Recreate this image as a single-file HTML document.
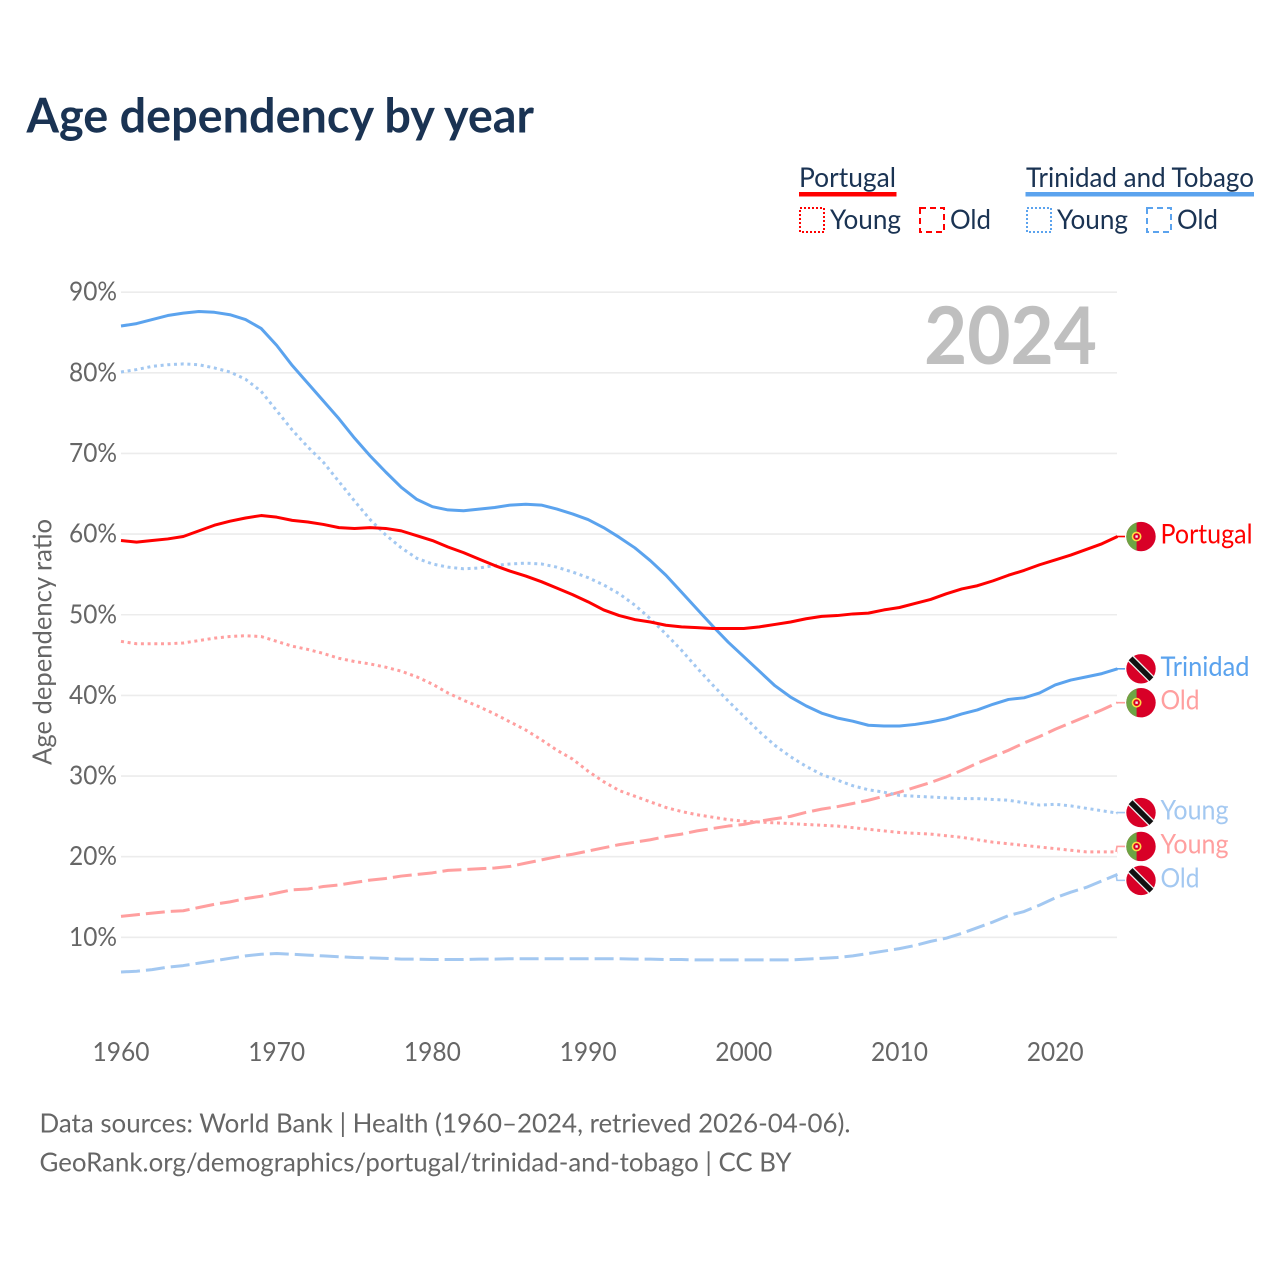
<!DOCTYPE html>
<html lang="en">
<head>
<meta charset="utf-8">
<title>Age dependency by year</title>
<style>
html,body{margin:0;padding:0;background:#fff;}
svg{display:block;font-family:"Lato","Carlito","Liberation Sans",sans-serif;}
</style>
</head>
<body>
<svg id="chart" xmlns="http://www.w3.org/2000/svg" width="1280" height="1280" viewBox="0 0 1280 1280">
  <rect width="1280" height="1280" fill="#fff"/>
  <text x="26.500" y="132.700" font-size="48" font-weight="700" fill="#1a3353" textLength="507.500" lengthAdjust="spacingAndGlyphs">Age dependency by year</text>

  <g font-size="27" fill="#1a3353">
    <text x="799" y="187" textLength="97" lengthAdjust="spacingAndGlyphs">Portugal</text>
    <rect x="799" y="192" width="97.500" height="4.500" fill="#ff0000"/>
    <rect x="800" y="208" width="24" height="24" fill="none" stroke="#ff0000" stroke-width="2" stroke-dasharray="2 2"/>
    <text x="830" y="229" textLength="71" lengthAdjust="spacingAndGlyphs">Young</text>
    <rect x="920" y="208" width="24" height="24" fill="none" stroke="#ff0000" stroke-width="2" stroke-dasharray="6 4"/>
    <text x="950" y="229" textLength="41" lengthAdjust="spacingAndGlyphs">Old</text>
    <text x="1026" y="187" textLength="228" lengthAdjust="spacingAndGlyphs">Trinidad and Tobago</text>
    <rect x="1025.500" y="192" width="228.500" height="4.500" fill="#5ba3ee"/>
    <rect x="1027" y="208" width="24" height="24" fill="none" stroke="#5ba3ee" stroke-width="2" stroke-dasharray="2 2"/>
    <text x="1057" y="229" textLength="71" lengthAdjust="spacingAndGlyphs">Young</text>
    <rect x="1147" y="208" width="24" height="24" fill="none" stroke="#5ba3ee" stroke-width="2" stroke-dasharray="6 4"/>
    <text x="1177" y="229" textLength="41" lengthAdjust="spacingAndGlyphs">Old</text>
  </g>

  <g id="grid"></g>
  <text x="924" y="364" font-size="80" font-weight="700" fill="#bfbfbf" textLength="173" lengthAdjust="spacingAndGlyphs">2024</text>
  <g id="yTicks" font-size="26" fill="#666666"></g>
  <g id="xTicks" font-size="26" fill="#666666"></g>
  <text transform="translate(51.300 642) rotate(-90)" text-anchor="middle" font-size="26" fill="#666666" textLength="246" lengthAdjust="spacingAndGlyphs">Age dependency ratio</text>
  <g id="series"></g>
  <g id="ends"></g>

  <g font-size="26" fill="#666666">
    <text x="39.500" y="1132.700" textLength="811" lengthAdjust="spacingAndGlyphs">Data sources: World Bank | Health (1960–2024, retrieved 2026-04-06).</text>
    <text x="39.500" y="1171.700" textLength="752" lengthAdjust="spacingAndGlyphs">GeoRank.org/demographics/portugal/trinidad-and-tobago | CC BY</text>
  </g>
</svg>
<script>
var startYear = 1960;
var xTickYears = [1960, 1970, 1980, 1990, 2000, 2010, 2020];
var yTickValues = [10, 20, 30, 40, 50, 60, 70, 80, 90];

var portugalTotal = [59.2,59.0,59.2,59.4,59.7,60.4,61.1,61.6,62.0,62.3,62.1,61.7,61.5,61.2,60.8,60.7,60.8,60.7,60.4,59.8,59.2,58.4,57.7,56.9,56.1,55.4,54.8,54.1,53.3,52.5,51.6,50.6,49.9,49.4,49.1,48.7,48.5,48.4,48.3,48.3,48.3,48.5,48.8,49.1,49.5,49.8,49.9,50.1,50.2,50.6,50.9,51.4,51.9,52.6,53.2,53.6,54.2,54.9,55.5,56.2,56.8,57.4,58.1,58.8,59.7];
var trinidadTotal = [85.8,86.1,86.6,87.1,87.4,87.6,87.5,87.2,86.6,85.5,83.4,80.9,78.7,76.5,74.3,71.9,69.7,67.7,65.8,64.3,63.4,63.0,62.9,63.1,63.3,63.6,63.7,63.6,63.1,62.5,61.8,60.8,59.6,58.3,56.7,54.9,52.8,50.7,48.6,46.6,44.8,43.0,41.2,39.8,38.7,37.8,37.2,36.8,36.3,36.2,36.2,36.4,36.7,37.1,37.7,38.2,38.9,39.5,39.7,40.3,41.3,41.9,42.3,42.7,43.3];
var portugalYoung = [46.7,46.4,46.4,46.4,46.5,46.8,47.1,47.3,47.4,47.3,46.7,46.1,45.7,45.2,44.6,44.2,43.9,43.5,43.0,42.3,41.4,40.3,39.4,38.6,37.7,36.7,35.7,34.5,33.2,32.1,30.6,29.3,28.2,27.5,26.8,26.1,25.6,25.2,24.9,24.6,24.4,24.3,24.2,24.1,24.0,23.9,23.8,23.6,23.4,23.2,23.0,22.9,22.8,22.6,22.4,22.1,21.8,21.6,21.4,21.2,21.0,20.8,20.6,20.6,20.6];
var portugalOld = [12.6,12.8,13.0,13.2,13.3,13.7,14.1,14.4,14.8,15.1,15.5,15.9,16.0,16.3,16.5,16.8,17.1,17.3,17.6,17.8,18.0,18.3,18.4,18.5,18.6,18.8,19.2,19.6,20.0,20.3,20.7,21.1,21.5,21.8,22.1,22.5,22.8,23.2,23.5,23.8,24.0,24.4,24.7,25.0,25.5,25.9,26.2,26.6,27.0,27.5,28.0,28.6,29.2,29.9,30.7,31.6,32.4,33.2,34.1,34.9,35.8,36.6,37.4,38.2,39.1];
var trinidadYoung = [80.1,80.4,80.8,81.0,81.1,81.0,80.6,80.1,79.2,77.7,75.3,72.9,70.8,68.9,66.5,64.1,61.8,59.9,58.3,57.0,56.3,55.9,55.7,55.8,56.1,56.3,56.4,56.3,55.9,55.3,54.6,53.7,52.6,51.2,49.5,47.6,45.6,43.4,41.3,39.3,37.4,35.5,33.8,32.4,31.2,30.2,29.5,28.8,28.3,28.0,27.6,27.5,27.4,27.3,27.2,27.2,27.1,27.0,26.7,26.4,26.5,26.3,26.0,25.7,25.4];
var trinidadOld = [5.7,5.8,6.0,6.3,6.5,6.8,7.1,7.4,7.7,7.9,8.0,7.9,7.8,7.7,7.6,7.5,7.45,7.4,7.3,7.3,7.25,7.25,7.25,7.3,7.3,7.35,7.35,7.35,7.35,7.35,7.35,7.35,7.35,7.3,7.3,7.25,7.25,7.2,7.2,7.2,7.2,7.2,7.2,7.2,7.3,7.4,7.5,7.7,8.0,8.3,8.6,9.0,9.5,9.9,10.5,11.2,11.9,12.7,13.2,14.0,14.9,15.6,16.2,17.0,17.8];

var SVGNS = 'http://www.w3.org/2000/svg';
function xScale(year) { return 121 + (year - 1960) * 15.57; }
function yScale(v) { return 1018 - v * 8.065; }
function make(tag, parent) {
  var el = document.createElementNS(SVGNS, tag);
  parent.appendChild(el);
  return el;
}

var grid = document.getElementById('grid');
var yTicks = document.getElementById('yTicks');
yTickValues.forEach(function (v) {
  var line = make('line', grid);
  
  
  line.setAttribute('x1', 121);
  line.setAttribute('x2', 1117);
  line.setAttribute('y1', yScale(v));
  line.setAttribute('y2', yScale(v));
  line.setAttribute('stroke', '#ececec');
  line.setAttribute('stroke-width', 1.6);
  var t = make('text', yTicks);
  
  
  t.setAttribute('x', 117);
  t.setAttribute('y', yScale(v) + 8.5);
  t.setAttribute('text-anchor', 'end');
  t.setAttribute('textLength', 48);
  t.setAttribute('lengthAdjust', 'spacingAndGlyphs');
  t.textContent = v + '%';
});

var xTicks = document.getElementById('xTicks');
xTickYears.forEach(function (y) {
  var t = make('text', xTicks);
  
  
  t.setAttribute('x', xScale(y));
  t.setAttribute('y', 1061);
  t.setAttribute('text-anchor', 'middle');
  t.setAttribute('textLength', 57);
  t.setAttribute('lengthAdjust', 'spacingAndGlyphs');
  t.textContent = String(y);
});

var seriesDefs = [
  { id: 'portugal-old', values: portugalOld, color: '#ff9f9f', dash: '19 6', label: 'Old', flag: 'pt', w: 39 },
  { id: 'trinidad-old', values: trinidadOld, color: '#a3c8f1', dash: '19 6', label: 'Old', flag: 'tt', w: 39 },
  { id: 'portugal-young', values: portugalYoung, color: '#ff9f9f', dash: '3 3.7', label: 'Young', flag: 'pt', w: 68 },
  { id: 'trinidad-young', values: trinidadYoung, color: '#a3c8f1', dash: '3 3.7', label: 'Young', flag: 'tt', w: 68 },
  { id: 'trinidad-total', values: trinidadTotal, color: '#5ba3ee', dash: null, label: 'Trinidad', flag: 'tt', w: 89 },
  { id: 'portugal-total', values: portugalTotal, color: '#ff0000', dash: null, label: 'Portugal', flag: 'pt', w: 92 }
];

var seriesGroup = document.getElementById('series');
seriesDefs.forEach(function (s) {
  var pts = s.values.map(function (v, i) {
    return xScale(startYear + i).toFixed(2) + ',' + yScale(v).toFixed(2);
  });
  var line = make('polyline', seriesGroup);
  
  
  line.setAttribute('points', pts.join(' '));
  line.setAttribute('fill', 'none');
  line.setAttribute('stroke', s.color);
  line.setAttribute('stroke-width', 3);
  line.setAttribute('stroke-linejoin', 'round');
  if (s.dash) line.setAttribute('stroke-dasharray', s.dash);
});

/* End-label placement: overlapping labels are pushed apart around their mean. */
var GAP = 33.9;
var ordered = seriesDefs.map(function (s) {
  return { s: s, endY: yScale(s.values[s.values.length - 1]) };
}).sort(function (a, b) { return a.endY - b.endY; });
var clusters = ordered.map(function (o) { return { items: [o], center: o.endY }; });
var merged = true;
while (merged) {
  merged = false;
  for (var i = 0; i < clusters.length - 1; i++) {
    var a = clusters[i], b = clusters[i + 1];
    var aBottom = a.center + (a.items.length - 1) * GAP / 2;
    var bTop = b.center - (b.items.length - 1) * GAP / 2;
    if (bTop - aBottom < GAP) {
      var items = a.items.concat(b.items);
      var sum = 0;
      items.forEach(function (o) { sum += o.endY; });
      clusters.splice(i, 2, { items: items, center: sum / items.length });
      merged = true;
      break;
    }
  }
}

var ends = document.getElementById('ends');
function drawFlag(parent, kind, cx, cy) {
  var g = make('g', parent);
  
  
  var r = 14.7;
  var c = make('circle', g);
  c.setAttribute('cx', cx);
  c.setAttribute('cy', cy);
  c.setAttribute('r', r);
  c.setAttribute('fill', '#d80027');
  if (kind === 'pt') {
    var split = 4.4;
    var h = Math.sqrt(r * r - split * split);
    var p = make('path', g);
    p.setAttribute('d', 'M' + (cx - split) + ' ' + (cy - h) + 'A' + r + ' ' + r + ' 0 0 0 ' + (cx - split) + ' ' + (cy + h) + 'Z');
    p.setAttribute('fill', '#6da544');
    var ring = make('circle', g);
    ring.setAttribute('cx', cx - split);
    ring.setAttribute('cy', cy);
    ring.setAttribute('r', 4.1);
    ring.setAttribute('fill', '#d80027');
    ring.setAttribute('stroke', '#ffda44');
    ring.setAttribute('stroke-width', 1.6);
    var shield = make('rect', g);
    shield.setAttribute('x', cx - split - 1.2);
    shield.setAttribute('y', cy - 1.2);
    shield.setAttribute('width', 2.4);
    shield.setAttribute('height', 2.4);
    shield.setAttribute('fill', '#f0f0f0');
  } else {
    var d = r * 0.707;
    var white = make('line', g);
    white.setAttribute('x1', cx - d);
    white.setAttribute('y1', cy - d);
    white.setAttribute('x2', cx + d);
    white.setAttribute('y2', cy + d);
    white.setAttribute('stroke', '#f0f0f0');
    white.setAttribute('stroke-width', 8);
    var black = make('line', g);
    black.setAttribute('x1', cx - d);
    black.setAttribute('y1', cy - d);
    black.setAttribute('x2', cx + d);
    black.setAttribute('y2', cy + d);
    black.setAttribute('stroke', '#111111');
    black.setAttribute('stroke-width', 5.4);
  }
}

clusters.forEach(function (cl) {
  cl.items.forEach(function (o, idx) {
    var ly = cl.center + (idx - (cl.items.length - 1) / 2) * GAP;
    var s = o.s;
    var conn = make('polyline', ends);
    
    
    conn.setAttribute('points', '1116,' + o.endY.toFixed(2) + ' 1117,' + ly.toFixed(2) + ' 1125,' + ly.toFixed(2));
    conn.setAttribute('fill', 'none');
    conn.setAttribute('stroke', s.color);
    conn.setAttribute('stroke-width', 1.6);
    drawFlag(ends, s.flag, 1141, ly);
    var t = make('text', ends);
    
    
    t.setAttribute('x', 1160.5);
    t.setAttribute('y', ly + 7);
    t.setAttribute('font-size', 27);
    t.setAttribute('fill', s.color);
    t.setAttribute('textLength', s.w);
    t.setAttribute('lengthAdjust', 'spacingAndGlyphs');
    t.textContent = s.label;
  });
});
</script>
</body>
</html>
